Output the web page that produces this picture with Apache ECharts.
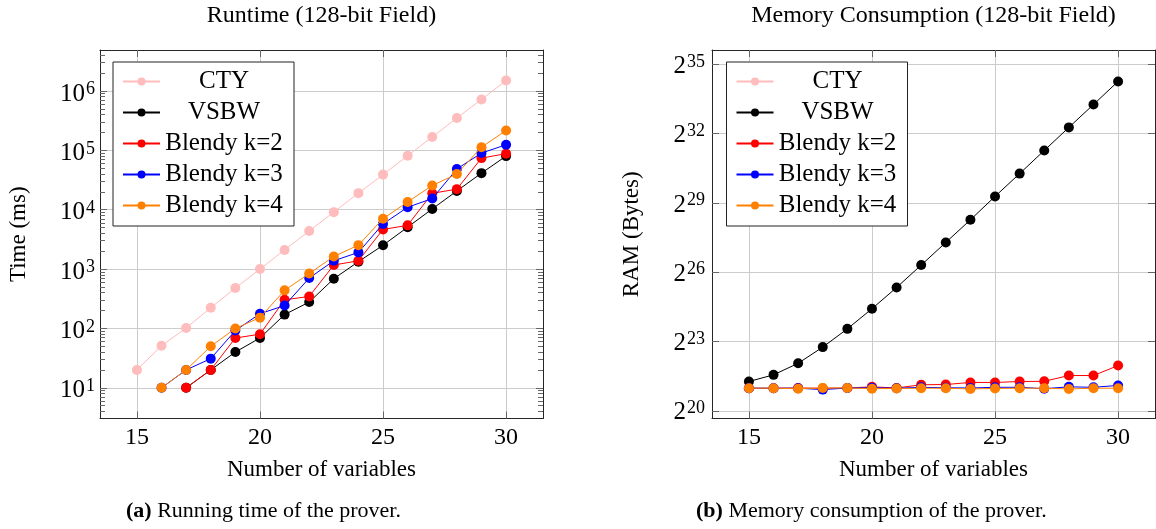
<!DOCTYPE html>
<html><head><meta charset="utf-8">
<script src="https://cdn.jsdelivr.net/npm/echarts@6/dist/echarts.min.js"></script>
<style>html,body{margin:0;padding:0;background:#fff}#c{width:1156px;height:529px}</style>
</head><body><div id="c"></div><script>
// ---- data ----
const vars = [15, 16, 17, 18, 19, 20, 21, 22, 23, 24, 25, 26, 27, 28, 29, 30];
const seriesNames = ['CTY', 'VSBW', 'Blendy k=2', 'Blendy k=3', 'Blendy k=4'];
// Runtime (ms)
const timeCTY  = [20, 51, 102, 223, 480, 1000, 2100, 4380, 9100, 19000, 39000, 81000, 168000, 350000, 720000, 1500000];
const timeVSBW = [null, null, 10, 20, 40, 69, 171, 278, 688, 1330, 2520, 5080, 10300, 20700, 41300, 80000];
const timeK2   = [null, null, 10, 20, 69, 80, 303, 346, 1170, 1380, 4650, 5450, 18900, 22200, 74000, 88000];
const timeK3   = [null, 10, 20, 31, 92, 177, 243, 705, 1380, 1910, 5760, 11000, 15400, 48500, 90000, 124000];
const timeK4   = [null, 10, 20, 50, 100, 152, 438, 840, 1630, 2530, 7050, 13500, 25600, 40000, 113000, 216000];
// Memory (bytes)
const ramCTY  = [];
const ramVSBW = [2530000, 3090000, 4370000, 7100000, 12280000, 22450000, 42470000, 83200000, 164100000, 323700000, 651900000, 1294700000, 2589500000, 5179000000, 10286000000, 20573000000];
const ramK2   = [2068000, 2068000, 2083000, 2068000, 2083000, 2156000, 2083000, 2295000, 2311000, 2460000, 2460000, 2529000, 2546000, 3028000, 3028000, 4080000];
const ramK3   = [2068000, 2068000, 2068000, 1984000, 2083000, 2098000, 2068000, 2126000, 2098000, 2083000, 2126000, 2126000, 2040000, 2156000, 2126000, 2248000];
const ramK4   = [2068000, 2068000, 2040000, 2083000, 2083000, 2040000, 2054000, 2068000, 2068000, 2026000, 2054000, 2068000, 2068000, 2026000, 2068000, 2068000];
// tick labels
const xTicks = [15, 20, 25, 30];
const timeTickExps = [1, 2, 3, 4, 5, 6];
const ramTickExps = [20, 23, 26, 29, 32, 35];

// ---- styling ----
const FONT = 'Liberation Serif';
const colors = ['#ffbcbc', '#000000', '#ff0000', '#0000ff', '#ff8000'];
const AXIS = '#262626';
const GRID = '#cccccc';
const TICK = '#666';

const X_MIN = 13.5, X_MAX = 31.5;
const T_MIN = 3.04, T_MAX = 4.9e6;
const R_MIN = 834000, R_MAX = 5.28e10;

const grids = [
  {left: 100, right: 613, top: 50, bottom: 110.5},
  {left: 712, right: 1, top: 50, bottom: 110.5}
];
const gridDefs = [grids[0], grids[1], grids[0]];

function pairs(ys) { return vars.map((x, i) => [x, ys[i]]).filter(p => p[1] != null); }

function supLabel(base, exp) { return '{b|' + base + '}{g|}{s|' + exp + '}'; }
const labelRich = {
  b: {fontFamily: FONT, fontSize: 25, lineHeight: 26, color: '#000', verticalAlign: 'bottom'},
  g: {width: 1, lineHeight: 26},
  s: {fontFamily: FONT, fontSize: 18, lineHeight: 16, color: '#000', verticalAlign: 'top'}
};

const minorTimeTicks = [];
for (let e = 0; e <= 6; e++) for (let m = 2; m <= 9; m++) {
  const v = m * Math.pow(10, e);
  if (v > T_MIN && v < T_MAX) minorTimeTicks.push(v);
}
const timeTickVals = timeTickExps.map(e => Math.pow(10, e));
const ramTickVals = ramTickExps.map(e => Math.pow(2, e));

function xAxisBottom(gi) {
  return {
    type: 'value', gridIndex: gi, position: 'bottom', min: X_MIN, max: X_MAX, splitNumber: 4,
    axisLine: {show: true, onZero: false, lineStyle: {color: AXIS, width: 1}},
    axisTick: {show: true, inside: true, length: 7, lineStyle: {color: TICK}, customValues: xTicks},
    axisLabel: {show: true, customValues: xTicks, margin: 7, fontFamily: FONT, fontSize: 24, color: '#000',
      formatter: v => String(v)},
    splitLine: {show: true, lineStyle: {color: GRID, width: 1}},
    name: 'Number of variables', nameLocation: 'middle', nameGap: 40,
    nameTextStyle: {fontFamily: FONT, fontSize: 23, color: '#000'}
  };
}
function xAxisTop(gi) {
  return {
    type: 'value', gridIndex: gi, position: 'top', min: X_MIN, max: X_MAX, splitNumber: 4,
    axisLine: {show: true, onZero: false, lineStyle: {color: AXIS, width: 1}},
    axisTick: {show: true, inside: true, length: 7, lineStyle: {color: TICK}, customValues: xTicks},
    axisLabel: {show: false}, splitLine: {show: false}
  };
}

const option = {
  animation: false,
  backgroundColor: '#fff',
  grid: gridDefs.map(g => Object.assign({containLabel: false}, g)),
  xAxis: [xAxisBottom(0), xAxisTop(0), xAxisBottom(1), xAxisTop(1),
    {type: 'value', gridIndex: 2, min: X_MIN, max: X_MAX, show: false}],
  yAxis: [
    { // 0: time left major
      type: 'log', logBase: 10, gridIndex: 0, position: 'left', min: T_MIN, max: T_MAX,
      axisLine: {show: true, lineStyle: {color: AXIS}},
      axisTick: {show: true, inside: true, length: 7, lineStyle: {color: TICK}, customValues: timeTickVals},
      axisLabel: {show: true, margin: 5, padding: [5, 0, 0, 0], customValues: timeTickVals,
        formatter: v => supLabel('10', Math.round(Math.log10(v))), rich: labelRich},
      splitLine: {show: true, lineStyle: {color: GRID}},
      name: 'Time (ms)', nameLocation: 'middle', nameGap: 70, nameRotate: 90,
      nameTextStyle: {fontFamily: FONT, fontSize: 23, color: '#000'}
    },
    { // 1: time right major
      type: 'log', logBase: 10, gridIndex: 0, position: 'right', min: T_MIN, max: T_MAX,
      axisLine: {show: true, lineStyle: {color: AXIS}},
      axisTick: {show: true, inside: true, length: 7, lineStyle: {color: TICK}, customValues: timeTickVals},
      axisLabel: {show: false}, splitLine: {show: false}
    },
    { // 2: ram left
      type: 'log', logBase: 2, gridIndex: 1, position: 'left', min: R_MIN, max: R_MAX,
      axisLine: {show: true, lineStyle: {color: AXIS}},
      axisTick: {show: true, inside: true, length: 7, lineStyle: {color: TICK}, customValues: ramTickVals},
      axisLabel: {show: true, margin: 7, padding: [3, 0, 0, 0], customValues: ramTickVals,
        formatter: v => supLabel('2', Math.round(Math.log2(v))), rich: labelRich},
      splitLine: {show: true, lineStyle: {color: GRID}},
      name: 'RAM (Bytes)', nameLocation: 'middle', nameGap: 69, nameRotate: 90,
      nameTextStyle: {fontFamily: FONT, fontSize: 23, color: '#000'}
    },
    { // 3: ram right
      type: 'log', logBase: 2, gridIndex: 1, position: 'right', min: R_MIN, max: R_MAX,
      axisLine: {show: true, lineStyle: {color: AXIS}},
      axisTick: {show: true, inside: true, length: 7, lineStyle: {color: TICK}, customValues: ramTickVals},
      axisLabel: {show: false}, splitLine: {show: false}
    },
    { // 4: time left minor
      type: 'log', logBase: 10, gridIndex: 2, position: 'left', min: T_MIN, max: T_MAX,
      axisLine: {show: false},
      axisTick: {show: true, inside: true, length: 5, lineStyle: {color: TICK}, customValues: minorTimeTicks},
      axisLabel: {show: false}, splitLine: {show: false}
    },
    { // 5: time right minor
      type: 'log', logBase: 10, gridIndex: 2, position: 'right', min: T_MIN, max: T_MAX,
      axisLine: {show: false},
      axisTick: {show: true, inside: true, length: 5, lineStyle: {color: TICK}, customValues: minorTimeTicks},
      axisLabel: {show: false}, splitLine: {show: false}
    }
  ],
  legend: [0, 1].map(i => ({
    data: seriesNames,
    orient: 'vertical',
    left: i === 0 ? 113 : 726.5,
    top: 62,
    padding: [7, 11, 8, 9],
    itemGap: 6,
    itemWidth: 37,
    itemHeight: 10,
    backgroundColor: '#fff',
    borderColor: '#222',
    borderWidth: 1,
    borderRadius: 0,
    selectedMode: false,
    formatter: n => '{c|' + n + '}',
    textStyle: {fontFamily: FONT, fontSize: 25, color: '#000', lineHeight: 24,
      rich: {c: {width: 118, align: 'center', fontFamily: FONT, fontSize: 25, lineHeight: 24, color: '#000'}}}
  })),
  graphic: [
    {type: 'text', x: 321.5, y: 16, style: {text: 'Runtime (128-bit Field)', align: 'center', verticalAlign: 'middle', font: '24px "Liberation Serif"', fill: '#000'}},
    {type: 'text', x: 933.5, y: 16, style: {text: 'Memory Consumption (128-bit Field)', align: 'center', verticalAlign: 'middle', font: '24px "Liberation Serif"', fill: '#000'}},
    {type: 'text', x: 126, y: 511, style: {text: '{b|(a)} Running time of the prover.', align: 'left', verticalAlign: 'middle', font: '22px "Liberation Serif"', fill: '#000',
      rich: {b: {fontWeight: 'bold', fontFamily: FONT, fontSize: 22, fill: '#000'}}}},
    {type: 'text', x: 696, y: 511, style: {text: '{b|(b)} Memory consumption of the prover.', align: 'left', verticalAlign: 'middle', font: '22px "Liberation Serif"', fill: '#000',
      rich: {b: {fontWeight: 'bold', fontFamily: FONT, fontSize: 22, fill: '#000'}}}}
  ],
  series: []
};

const timeData = [timeCTY, timeVSBW, timeK2, timeK3, timeK4];
const ramData = [ramCTY, ramVSBW, ramK2, ramK3, ramK4];
function mk(name, color, data, xi, yi, z) {
  return {
    type: 'line', name, xAxisIndex: xi, yAxisIndex: yi, data: pairs(data),
    symbol: 'circle', symbolSize: 10, showSymbol: true,
    lineStyle: {color, width: 1}, itemStyle: {color},
    emphasis: {disabled: true}, silent: true, z
  };
}
seriesNames.forEach((n, i) => option.series.push(mk(n, colors[i], timeData[i], 0, 0, 2 + i)));
seriesNames.forEach((n, i) => option.series.push(mk(n, colors[i], ramData[i], 2, 2, 2 + i)));

const chart = echarts.init(document.getElementById('c'), null, {renderer: 'canvas'});
chart.setOption(option);
</script></body></html>
